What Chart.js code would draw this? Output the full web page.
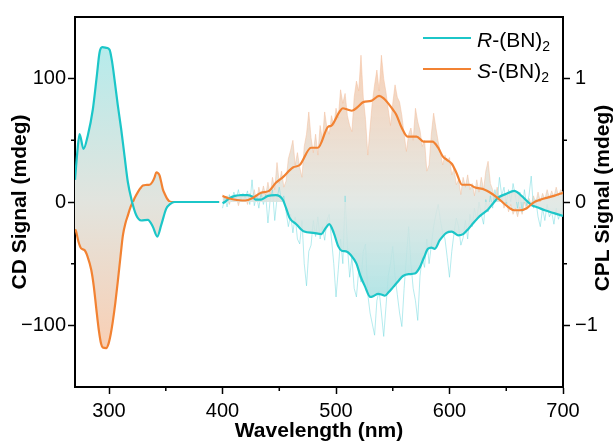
<!DOCTYPE html>
<html>
<head>
<meta charset="utf-8">
<script src="https://cdn.jsdelivr.net/npm/chart.js@4.4.1/dist/chart.umd.min.js"></script>
<style>
  body { margin: 0; background: #fff; }
  #wrap { position: relative; width: 614px; height: 442px; font-family: "Liberation Sans", Arial, sans-serif; }
  .lg-line { position: absolute; left: 423px; width: 48px; height: 2px; }
  .lg-text { position: absolute; left: 477px; font-size: 21px; line-height: 21px; color: #000; white-space: nowrap; }
  .lg-text sub { font-size: 14px; vertical-align: -4px; line-height: 0; }
</style>
</head>
<body>
<div id="wrap">
  <canvas id="chart" width="614" height="442"></canvas>
  <div class="lg-line" style="top:37px; background:#1cc6c8"></div>
  <div class="lg-text" style="top:29px"><i>R</i>-(BN)<sub>2</sub></div>
  <div class="lg-line" style="top:68px; background:#f28232"></div>
  <div class="lg-text" style="top:60px"><i>S</i>-(BN)<sub>2</sub></div>
</div>
<script>
// CD spectra (left axis, mdeg)
const cdRWl = [270, 272, 274, 277.5, 281.3, 285.7, 289.2, 291.6, 294, 297.5,
  300.4, 302.8, 304.8, 307.7, 310.7, 313.6, 316.6, 319.6, 324, 328.4,
  334.2, 338.6, 342.5, 346, 350.4, 354, 357.7, 370, 385, 397]
const cdRVal = [18, 40, 55, 43, 54, 75, 102, 121, 125.5, 125,
  123.6, 113, 99.4, 78.6, 59, 37.6, 16, 2.7, -10.8, -15,
  -14.5, -20, -28, -18.6, -5.4, -1.5, 0, 0, 0, 0]

const cdSWl = [270, 271, 273, 275.4, 278.4, 281, 284.3, 286.5, 288.7, 291,
  293, 294.5, 297.5, 299.5, 301.5, 303.3, 305.5, 307.7, 310, 312.2,
  314.5, 316.6, 319, 321, 323, 325.4, 327.5, 329.8, 332.5, 335.7,
  338, 340.1, 341.6, 343, 344.5, 346, 347.5, 349, 351, 353.3,
  357, 370, 385, 397]
const cdSVal = [-22, -24, -32, -37.6, -39, -44, -55, -68, -86, -104,
  -115, -118, -118.5, -115, -107, -97, -82, -64.5, -45, -27,
  -17, -10.8, -4, 0, 4, 8, 11, 13.4, 13.8, 14,
  16, 20, 24, 23.5, 21.5, 16, 10, 6.7, 3, 0.5,
  0, 0, 0, 0]

// CPL smoothed curves (right axis, mdeg)
const cplSWl = [400, 405, 410, 415, 420, 427, 434, 441, 447, 453,
  462, 468, 478, 484, 493, 496, 503, 506, 510, 514,
  519, 524, 531, 538, 542, 546, 550, 553, 558, 563,
  571, 577, 585, 590, 594, 598, 602, 606, 611, 618,
  622, 631, 636, 640, 644, 649, 653, 657, 662, 668,
  674, 679, 684, 692, 700]
const cplSVal = [0.048, 0.03, 0.02, 0.014, 0.012, 0.035, 0.075, 0.09, 0.156, 0.2,
  0.28, 0.3, 0.44, 0.44, 0.61, 0.62, 0.73, 0.76, 0.75, 0.74,
  0.77, 0.81, 0.82, 0.86, 0.84, 0.8, 0.75, 0.71, 0.6, 0.53,
  0.53, 0.49, 0.49, 0.44, 0.37, 0.34, 0.31, 0.24, 0.14, 0.14,
  0.12, 0.1, 0.075, 0.05, 0.02, -0.02, -0.05, -0.067, -0.067, -0.05,
  -0.005, 0.015, 0.03, 0.05, 0.075]

const cplRWl = [400, 402, 406, 411, 416, 422, 426, 429, 434, 440,
  447, 453, 456, 459, 465, 472, 480, 487, 491, 494,
  498, 502, 505, 509, 513, 518, 521.5, 525.3, 530.3, 533.5,
  537, 540, 543, 546.5, 550.3, 555, 559, 564, 569.4, 573.8,
  577.5, 581, 584, 587, 591.4, 597.3, 602, 607.6, 612, 616.4,
  621, 625.2, 630, 634, 638.5, 642.8, 650.2, 657, 663.5, 668,
  672.3, 678, 684, 692, 700]
const cplRVal = [-0.01, 0.0, 0.03, 0.05, 0.055, 0.056, 0.045, 0.02, 0.02, 0.05,
  0.056, 0.02, -0.05, -0.127, -0.18, -0.24, -0.25, -0.26, -0.21, -0.18,
  -0.25, -0.36, -0.395, -0.4, -0.43, -0.5, -0.6, -0.68, -0.77, -0.76,
  -0.745, -0.75, -0.76, -0.73, -0.69, -0.64, -0.6, -0.585, -0.58, -0.53,
  -0.45, -0.38, -0.37, -0.38, -0.31, -0.25, -0.24, -0.27, -0.26, -0.22,
  -0.17, -0.127, -0.09, -0.06, -0.01, 0.035, 0.067, 0.09, 0.05, 0.01,
  -0.025, -0.045, -0.067, -0.09, -0.113]

// CPL raw (noisy) traces, 2 nm steps
const rawWl = [400, 402, 404, 406, 408, 410, 412, 414, 416, 418,
  420, 422, 424, 426, 428, 430, 432, 434, 436, 438,
  440, 442, 444, 446, 448, 450, 452, 454, 456, 458,
  460, 462, 464, 466, 468, 470, 472, 474, 476, 478,
  480, 482, 484, 486, 488, 490, 492, 494, 496, 498,
  500, 502, 504, 506, 508, 510, 512, 514, 516, 518,
  520, 522, 524, 526, 528, 530, 532, 534, 536, 538,
  540, 542, 544, 546, 548, 550, 552, 554, 556, 558,
  560, 562, 564, 566, 568, 570, 572, 574, 576, 578,
  580, 582, 584, 586, 588, 590, 592, 594, 596, 598,
  600, 602, 604, 606, 608, 610, 612, 614, 616, 618,
  620, 622, 624, 626, 628, 630, 632, 634, 636, 638,
  640, 642, 644, 646, 648, 650, 652, 654, 656, 658,
  660, 662, 664, 666, 668, 670, 672, 674, 676, 678,
  680, 682, 684, 686, 688, 690, 692, 694, 696, 698,
  700]
const rawSVal = [0.06, 0.0, 0.05, -0.02, 0.04, 0.0, 0.05, -0.03, 0.04, 0.01,
  0.06, -0.02, 0.07, 0.02, 0.1, 0.0, 0.12, 0.04, 0.13, 0.05,
  0.16, 0.06, 0.2, 0.1, 0.32, 0.15, 0.25, 0.12, 0.17, 0.35,
  0.42, 0.5, 0.3, 0.4, 0.28, 0.2, 0.45, 0.55, 0.73, 0.52,
  0.4, 0.55, 0.38, 0.62, 0.5, 0.73, 0.6, 0.55, 0.7, 0.62,
  0.76, 0.68, 0.91, 0.8, 0.88, 0.7, 0.62, 0.57, 0.85, 0.98,
  0.9, 1.19, 0.85, 0.67, 0.38, 0.6, 0.81, 0.95, 1.07, 0.9,
  1.19, 1.0, 0.89, 0.75, 0.62, 0.8, 0.95, 0.85, 0.81, 0.7,
  0.55, 0.41, 0.55, 0.6, 0.5, 0.76, 0.65, 0.58, 0.45, 0.5,
  0.25, 0.3, 0.55, 0.72, 0.6, 0.49, 0.4, 0.3, 0.38, 0.33,
  0.36, 0.22, 0.27, 0.14, 0.18, 0.06, 0.2, 0.12, 0.22, 0.1,
  0.15, 0.05, 0.18, 0.08, 0.2, 0.1, 0.25, 0.33, 0.15, 0.1,
  0.02, 0.12, 0.0, 0.05, -0.05, 0.02, -0.08, -0.02, -0.1, -0.05,
  -0.12, -0.04, -0.1, 0.0, -0.06, 0.03, -0.02, 0.05, -0.01, 0.08,
  0.0, 0.07, 0.02, 0.1, 0.03, 0.09, 0.04, 0.12, 0.05, 0.1,
  0.08]
const rawRVal = [-0.05, 0.04, -0.04, 0.06, 0.0, 0.08, 0.02, 0.1, 0.0, 0.07,
  0.03, 0.09, -0.02, 0.18, -0.03, 0.05, -0.05, 0.08, -0.02, 0.06,
  -0.17, 0.02, 0.1, -0.15, 0.03, 0.12, 0.0, 0.05, -0.08, -0.2,
  -0.1, -0.25, -0.12, -0.3, -0.34, -0.15, -0.5, -0.68, -0.4, -0.35,
  -0.15, -0.28, -0.12, -0.3, -0.2, -0.31, -0.15, -0.1, -0.3, -0.5,
  -0.77, -0.55, -0.3, -0.5, 0.05, -0.35, -0.61, -0.45, -0.7, -0.77,
  -0.55, -0.65, -0.4, -0.34, -0.75, -0.9, -0.99, -1.08, -0.8, -0.72,
  -0.9, -1.09, -0.85, -0.6, -0.5, -0.36, -0.6, -0.75, -0.9, -1.01,
  -0.7, -0.45, -0.2, -0.5, -0.7, -0.8, -0.96, -0.6, -0.45, -0.53,
  -0.3, -0.5, -0.35, -0.2, -0.1, -0.02, -0.15, -0.25, -0.3, -0.45,
  -0.61, -0.4, -0.25, -0.13, -0.2, -0.35, -0.29, -0.15, -0.3, -0.1,
  -0.2, -0.05, -0.15, 0.0, -0.1, -0.18, 0.02, -0.08, 0.05, -0.05,
  0.1, 0.0, 0.2, 0.05, 0.12, -0.02, 0.1, 0.0, 0.15, 0.05,
  -0.05, 0.08, -0.08, 0.1, -0.03, 0.05, 0.21, -0.05, 0.02, -0.12,
  -0.2, -0.05, -0.15, -0.02, -0.12, -0.08, -0.18, -0.05, -0.14, -0.08,
  -0.12]

const xTicks = [300, 400, 500, 600, 700]
const xMinor = [350, 450, 550, 650]
const cdTicks = [-100, 0, 100]
const cdMinor = [-50, 50]
const cplTicks = [-1, 0, 1]
const cplMinor = [-0.5, 0.5]

const CYAN = '#1cc6c8'
const ORANGE = '#f28232'
const FONT = '"Liberation Sans", Arial, sans-serif'

const pts = (xs, ys) => xs.map((x, i) => ({ x, y: ys[i] }))

function vGradient(chart, axisId, vTop, vBot, stops) {
  const { ctx, chartArea, scales } = chart
  if (!chartArea) return 'transparent'
  const s = scales[axisId]
  const g = ctx.createLinearGradient(0, s.getPixelForValue(vTop), 0, s.getPixelForValue(vBot))
  stops.forEach(([o, c]) => g.addColorStop(o, c))
  return g
}
const cdFill = (c) => vGradient(c.chart, 'y', 125, -125, [
  [0, 'rgb(182,235,235)'], [0.5, 'rgb(226,228,222)'], [1, 'rgb(250,206,178)']
])
const cplFill = (c) => vGradient(c.chart, 'y2', 1.2, -1.2, [
  [0, 'rgba(246,198,166,0.8)'], [0.5, 'rgba(222,229,225,0.85)'], [1, 'rgba(140,224,228,0.9)']
])

const minus = (v) => String(v).replace('-', '\u2212')

const frame = {
  id: 'frame',
  afterDraw(chart) {
    const { ctx, chartArea: a, scales } = chart
    ctx.save()
    ctx.strokeStyle = '#000'
    ctx.lineWidth = 2
    ctx.beginPath()
    ctx.moveTo(a.left - 1, a.top)
    ctx.lineTo(a.right + 1, a.top)
    ctx.stroke()
    ctx.lineWidth = 1.5
    ctx.beginPath()
    xMinor.forEach((v) => {
      const p = scales.x.getPixelForValue(v)
      ctx.moveTo(p, a.bottom); ctx.lineTo(p, a.bottom + 4)
    })
    cdMinor.forEach((v) => {
      const p = scales.y.getPixelForValue(v)
      ctx.moveTo(a.left, p); ctx.lineTo(a.left - 4, p)
    })
    cplMinor.forEach((v) => {
      const p = scales.y2.getPixelForValue(v)
      ctx.moveTo(a.right, p); ctx.lineTo(a.right + 4, p)
    })
    ctx.stroke()
    // right axis title reads bottom-to-top like the left one
    ctx.translate(603, (a.top + a.bottom) / 2 - 4)
    ctx.rotate(-Math.PI / 2)
    ctx.fillStyle = '#000'
    ctx.font = 'bold 21px ' + FONT
    ctx.textAlign = 'center'
    ctx.textBaseline = 'middle'
    ctx.fillText('CPL Signal (mdeg)', 0, 0)
    ctx.restore()
  }
}

const axisLook = {
  border: { display: true, color: '#000', width: 2 },
  grid: { drawOnChartArea: false, drawTicks: true, tickLength: 7, tickColor: '#000', tickWidth: 1.5 }
}

new Chart(document.getElementById('chart'), {
  type: 'line',
  data: {
    datasets: [
      { data: pts(cdRWl, cdRVal), yAxisID: 'y', borderColor: CYAN, borderWidth: 2.2,
        fill: 'origin', backgroundColor: cdFill, cubicInterpolationMode: 'monotone' },
      { data: pts(cdSWl, cdSVal), yAxisID: 'y', borderColor: ORANGE, borderWidth: 2.2,
        fill: 'origin', backgroundColor: cdFill, cubicInterpolationMode: 'monotone' },
      { data: pts(cplSWl, cplSVal), yAxisID: 'y2', borderColor: ORANGE, borderWidth: 2.2,
        fill: false, cubicInterpolationMode: 'monotone' },
      { data: pts(cplRWl, cplRVal), yAxisID: 'y2', borderColor: CYAN, borderWidth: 2.2,
        fill: 'origin', backgroundColor: cplFill, cubicInterpolationMode: 'monotone' },
      { data: pts(rawWl, rawRVal), yAxisID: 'y2', borderColor: 'rgba(120,218,224,0.55)', borderWidth: 1,
        fill: false, tension: 0 },
      { data: pts(rawWl, rawSVal), yAxisID: 'y2', borderColor: 'rgba(244,190,156,0.5)', borderWidth: 1,
        fill: 'origin', backgroundColor: cplFill, tension: 0 }
    ]
  },
  options: {
    responsive: false,
    animation: false,
    devicePixelRatio: 1,
    layout: { padding: { top: 14, left: 0, right: 0, bottom: 0 } },
    elements: { point: { radius: 0 } },
    plugins: { legend: { display: false }, tooltip: { enabled: false } },
    scales: {
      x: {
        type: 'linear', min: 270, max: 700,
        ...axisLook,
        afterBuildTicks: (s) => { s.ticks = xTicks.map((value) => ({ value })) },
        afterFit: (s) => { s.height = 55 },
        ticks: { color: '#000', font: { family: FONT, size: 20 }, padding: 5, maxRotation: 0 },
        title: { display: true, text: 'Wavelength (nm)', color: '#000',
          font: { family: FONT, size: 21, weight: 'bold', lineHeight: 1 }, padding: 0 }
      },
      y: {
        type: 'linear', position: 'left', min: -150, max: 150,
        ...axisLook,
        afterBuildTicks: (s) => { s.ticks = cdTicks.map((value) => ({ value })) },
        afterFit: (s) => { s.width = 75 },
        ticks: { color: '#000', font: { family: FONT, size: 20 }, padding: 2, callback: minus },
        title: { display: true, text: 'CD Signal (mdeg)', color: '#000',
          font: { family: FONT, size: 21, weight: 'bold', lineHeight: 1 }, padding: { top: 10, bottom: 0 } }
      },
      y2: {
        type: 'linear', position: 'right', min: -1.5, max: 1.5,
        ...axisLook,
        afterBuildTicks: (s) => { s.ticks = cplTicks.map((value) => ({ value })) },
        afterFit: (s) => { s.width = 51 },
        ticks: { color: '#000', font: { family: FONT, size: 20 }, padding: 5, callback: minus }
      }
    }
  },
  plugins: [frame]
})
</script>
</body>
</html>
